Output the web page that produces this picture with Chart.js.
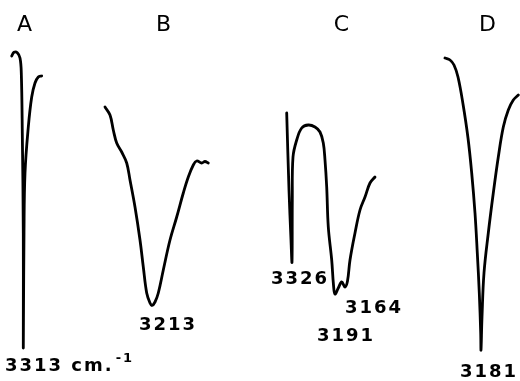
<!DOCTYPE html>
<html>
<head>
<meta charset="utf-8">
<script src="https://cdn.jsdelivr.net/npm/chart.js@4"></script>
<style>
html,body{margin:0;padding:0;background:#fff;}
#wrap{width:520px;height:381px;}
</style>
</head>
<body>
<div id="wrap"><canvas id="c" width="520" height="381"></canvas></div>
<script>
// Trace positions (horizontal position across the figure, arbitrary units) and
// pen deflection (0 = top of figure, increasing downward) for each spectrum.
const aX = [11.7,14,17.3,20,21.3,22.3,23.3,23.3,24,25,28.3,31.7,35,38.3,41.7];
const aY = [56,52.3,52.7,58,73,133,233,348,233,173,127,97,83,77,76];

const bX = [105,110,113.3,116.7,121.7,126.7,130,135,140,143.3,146.7,150,152,155,158.3,163.3,170,176.7,183.3,188.3,193.3,196.7,201.7,205,208.3];
const bY = [107,115,130,143,152,163,180,207,240,267,293,303,305.5,302,293,270,240,217,193,177,165,161,163,161.5,163];

const cX = [286.7,289,291,292,292.3,293,296.7,301.7,308.3,315,320,323.3,325,326.7,328.3,331.7,333.5,335,338.3,341.7,345,347.5,350,355,360,365,370,375];
const cY = [113,190,240,262,200,157,140,128,125,127,132,143,160,187,227,260,285,294,288,282,287,281,260,233,210,197,183,177];

const dX = [445,450,454,458,463,468,471.7,475,477.3,479.3,480.7,481,482,484,488.3,493.3,498.3,503.3,508.3,513.3,518.3];
const dY = [58,60,65,77,104,138,173,213,253,293,333,350,317,273,233,193,157,127,110,100,95];

const panelLabels = ['A','B','C','D'];
const peakLabels = ['3313 cm.','3213','3326','3164','3191','3181'];
const unitSuperscript = '-1';

function pts(xs, ys){ return xs.map((x,i)=>({x:x, y:ys[i]})); }

// Text placement (in the same units as the traces)
const panelPos = [[24.5,25],[163.5,25],[341.5,25],[487.5,25]];
const peakPos = [[5,366,'left'],[168,325,'center'],[300,279,'center'],[345,308,'left'],[346,336,'center'],[489,372,'center']];

const textPlugin = {
  id:'texts',
  afterDraw(chart){
    const ctx = chart.ctx, sx = chart.scales.x, sy = chart.scales.y;
    ctx.save();
    ctx.fillStyle = '#000';
    ctx.textBaseline = 'middle';
    ctx.font = '22px "DejaVu Sans"';
    ctx.textAlign = 'center';
    panelLabels.forEach((t,i)=>{
      ctx.fillText(t, sx.getPixelForValue(panelPos[i][0]), sy.getPixelForValue(panelPos[i][1]));
    });
    ctx.font = 'bold 18px "DejaVu Sans"';
    try { ctx.letterSpacing = '2px'; } catch(e){}
    peakLabels.forEach((t,i)=>{
      ctx.textAlign = peakPos[i][2];
      ctx.fillText(t, sx.getPixelForValue(peakPos[i][0]), sy.getPixelForValue(peakPos[i][1]));
    });
    // superscript of the unit
    const w = ctx.measureText(peakLabels[0]).width;
    ctx.textAlign = 'left';
    ctx.font = 'bold 13px "DejaVu Sans"';
    try { ctx.letterSpacing = '2px'; } catch(e){}
    ctx.fillText(unitSuperscript, sx.getPixelForValue(peakPos[0][0]) + w + 2, sy.getPixelForValue(peakPos[0][1] - 7));
    ctx.restore();
  }
};

const mk = (xs, ys) => ({
  data: pts(xs, ys),
  showLine: true,
  borderColor: '#000',
  borderWidth: 2.8,
  pointRadius: 0,
  tension: 0.38,
  fill: false,
  borderCapStyle: 'round',
  borderJoinStyle: 'round'
});

new Chart(document.getElementById('c'), {
  type: 'scatter',
  data: { datasets: [mk(aX,aY), mk(bX,bY), mk(cX,cY), mk(dX,dY)] },
  options: {
    responsive: false,
    animation: false,
    layout: { padding: 0 },
    plugins: { legend: {display:false}, tooltip: {enabled:false} },
    scales: {
      x: { type:'linear', min:0, max:520, display:false },
      y: { type:'linear', min:0, max:381, reverse:true, display:false }
    }
  },
  plugins: [textPlugin]
});
</script>
</body>
</html>
